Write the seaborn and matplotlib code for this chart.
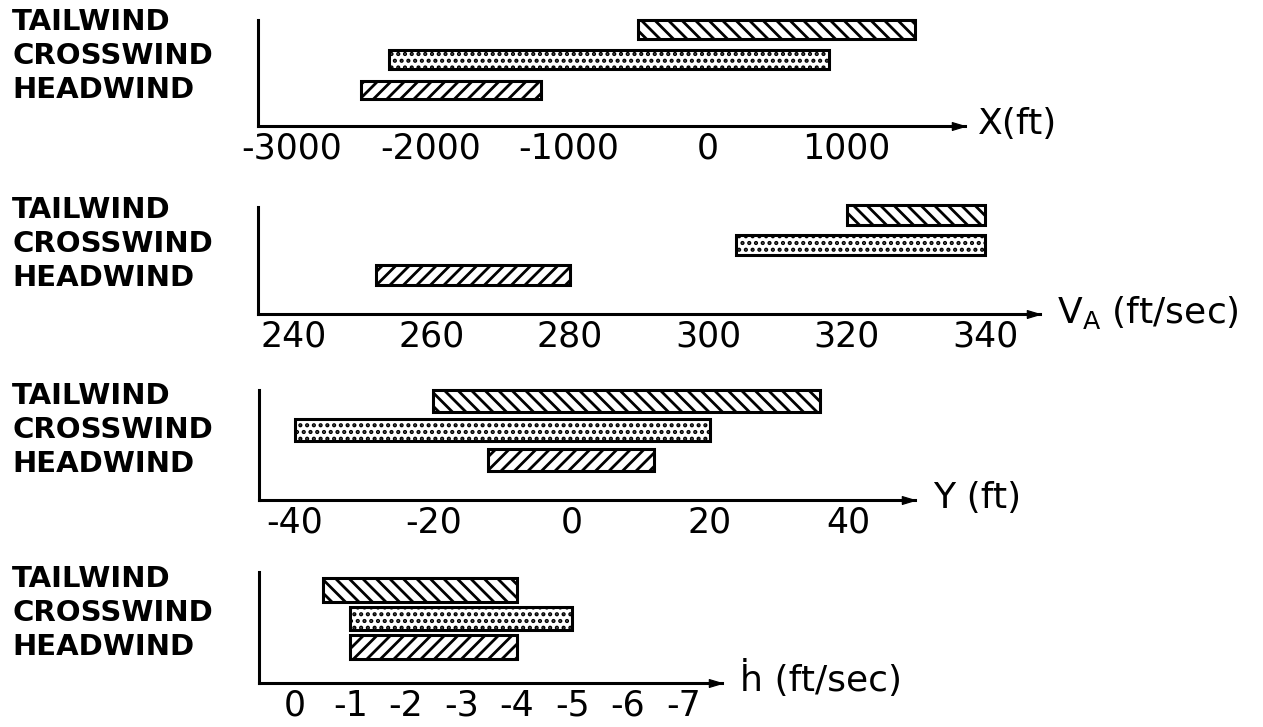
import numpy as np
import pandas as pd
import matplotlib
matplotlib.use('Agg')
import matplotlib.pyplot as plt
import seaborn as sns

# wind cases, top to bottom in every panel
categories = ['TAILWIND', 'CROSSWIND', 'HEADWIND']
hatches = ['\\\\', '..', '//']

# range (start -> end) of each quantity for each wind case
x_start = [-500, -2300, -2500]
x_end = [1500, 880, -1200]
va_start = [320, 304, 252]
va_end = [340, 340, 280]
y_start = [-20, -40, -12]
y_end = [36, 20, 12]
hdot_start = [-0.5, -1, -1]
hdot_end = [-4, -5, -4]

# ticks
x_ticks = [-3000, -2000, -1000, 0, 1000]
x_minor = [-2500, -1500, -500, 500, 1500]
va_ticks = [240, 260, 280, 300, 320, 340]
y_ticks = [-40, -20, 0, 20, 40]
hdot_ticks = [0, -1, -2, -3, -4, -5, -6, -7]

W, H = 1263, 727
DPI = 81          # lower dpi -> denser hatching
S = 100 / DPI     # sizes below are tuned for 100 dpi

sns.set_theme(style='white')
plt.rcParams['font.family'] = ['DejaVu Sans']
plt.rcParams['axes.unicode_minus'] = False
plt.rcParams['mathtext.default'] = 'regular'
plt.rcParams['hatch.linewidth'] = 2.0 * S
plt.rcParams['hatch.color'] = 'black'
plt.rcParams['text.color'] = 'black'

fig = plt.figure(figsize=(W / DPI, H / DPI), dpi=DPI)
fig.patch.set_facecolor('white')

# arrow head marker, tip at the marker centre
arrow = [(-2, -0.6), (0, 0), (-2, 0.6), (-2, -0.6)]


def draw_panel(box, start, end, ticks, minor, xlim, ylim, bar_w, xlabel, lab_off):
    left, right, top, bottom = box
    ax = fig.add_axes([left / W, 1 - bottom / H, (right - left) / W, (bottom - top) / H])
    df = pd.DataFrame({'case': categories, 'span': np.subtract(end, start)})
    sns.barplot(data=df, x='span', y='case', orient='y', ax=ax, color='white',
                saturation=1, edgecolor='black', linewidth=2.2 * S, width=bar_w,
                errorbar=None)
    # move each bar to start at its lower bound
    for patch, s, h in zip(ax.patches, start, hatches):
        patch.set_x(s)
        patch.set_hatch(h)
        patch.set_facecolor('white')
        patch.set_clip_on(False)

    ax.set_xlim(xlim)
    ax.set_ylim(ylim)
    ax.set_xlabel('')
    ax.set_ylabel('')
    ax.set_yticks([])
    ax.set_xticks(ticks)
    ax.set_xticklabels([str(t) for t in ticks])
    if minor:
        ax.set_xticks(minor, minor=True)
    ax.tick_params(axis='x', which='both', direction='in', length=7 * S, width=1.6 * S,
                   labelsize=25 * S, pad=4 * S, colors='black')
    ax.set_facecolor('none')
    for side in ['top', 'right']:
        ax.spines[side].set_visible(False)
    for side in ['left', 'bottom']:
        ax.spines[side].set_color('black')
        ax.spines[side].set_linewidth(2.2 * S)

    ax.plot([1], [0], marker=arrow, ms=19 * S, color='black', transform=ax.transAxes,
            clip_on=False)
    ax.annotate(xlabel, xy=(1, 0), xycoords='axes fraction',
                xytext=(lab_off[0] * S, lab_off[1] * S), textcoords='offset points',
                ha='left', va='center', fontsize=26 * S, color='black')

    for cat, off in zip(categories, [75, 50.5, 26]):
        ax.annotate(cat, xy=(12 / W, 0), xycoords=('figure fraction', 'axes fraction'),
                    xytext=(0, off * S), textcoords='offset points', ha='left',
                    va='center', fontsize=21 * S, fontweight='bold', color='black')
    return ax


draw_panel((258, 965, 20, 126), x_start, x_end, x_ticks, x_minor,
           (-3246, 1861), (3.2, -0.33), 0.63, 'X(ft)', (9, 1.5))
draw_panel((258, 1040, 207, 314), va_start, va_end, va_ticks, None,
           (234.9, 347.9), (3.3, -0.27), 0.67, 'V$_{A}$ (ft/sec)', (12, 1))
draw_panel((259, 915, 390, 500), y_start, y_end, y_ticks, None,
           (-45.2, 49.7), (3.36, -0.37), 0.74, 'Y (ft)', (13, 1.5))
draw_panel((259, 722, 572, 683), hdot_start, hdot_end, hdot_ticks, None,
           (0.65, -7.70), (3.26, -0.63), 0.84, 'ḣ (ft/sec)', (13, 3))

fig.savefig('out.png', dpi=DPI, facecolor='white')
